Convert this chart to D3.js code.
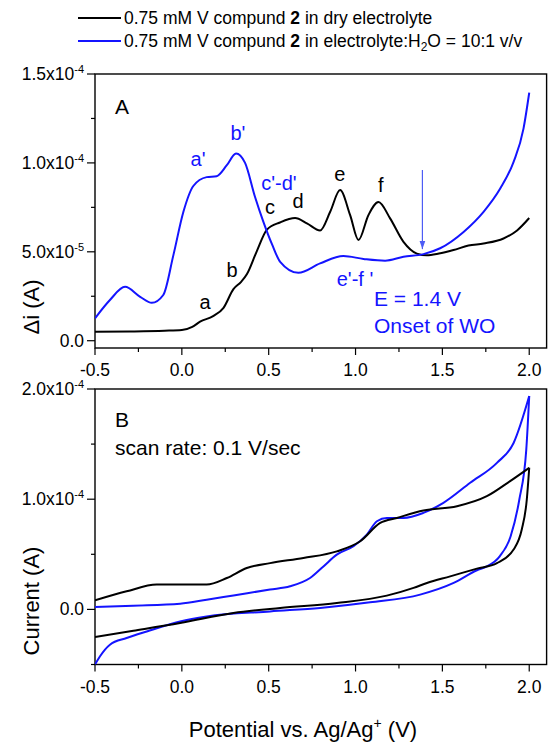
<!DOCTYPE html>
<html>
<head>
<meta charset="utf-8">
<script src="https://cdn.jsdelivr.net/npm/d3@7"></script>
<style>
  body { margin: 0; background: #fff; }
  svg { font-family: Arial, "Liberation Sans", sans-serif; }
</style>
</head>
<body>
<div id="chart"></div>
<script>
// panel A: differential pulse, potential (V) and delta i (A)
var dpvVoltsDry = [-0.5, -0.3, -0.1, 0.0, 0.06, 0.105, 0.18, 0.24, 0.297, 0.34, 0.375, 0.43, 0.49, 0.565, 0.652, 0.72, 0.796, 0.854, 0.911, 0.969, 1.017, 1.074, 1.132, 1.199, 1.276, 1.353, 1.41, 1.48, 1.564, 1.65, 1.737, 1.852, 1.93, 2.0];
var dpvCurrentDry = [0.50e-5, 0.52e-5, 0.56e-5, 0.60e-5, 0.78e-5, 1.07e-5, 1.38e-5, 1.85e-5, 2.9e-5, 3.3e-5, 3.75e-5, 5.0e-5, 6.25e-5, 6.65e-5, 6.9e-5, 6.6e-5, 6.2e-5, 7.25e-5, 8.47e-5, 7.06e-5, 5.66e-5, 7.06e-5, 7.8e-5, 6.88e-5, 5.56e-5, 4.9e-5, 4.8e-5, 4.9e-5, 5.1e-5, 5.35e-5, 5.47e-5, 5.75e-5, 6.2e-5, 6.9e-5];

var dpvVoltsWet = [-0.5, -0.414, -0.327, -0.24, -0.173, -0.107, -0.049, 0.009, 0.066, 0.143, 0.2, 0.259, 0.312, 0.364, 0.421, 0.469, 0.52, 0.566, 0.671, 0.796, 0.93, 1.046, 1.17, 1.276, 1.391, 1.487, 1.622, 1.737, 1.833, 1.91, 1.967, 2.0];
var dpvCurrentWet = [1.26e-5, 2.29e-5, 3.03e-5, 2.47e-5, 2.13e-5, 2.57e-5, 4.8e-5, 7.25e-5, 8.7e-5, 9.2e-5, 9.25e-5, 9.87e-5, 1.053e-4, 1.0e-4, 8.1e-5, 6.7e-5, 5.4e-5, 4.44e-5, 3.82e-5, 4.35e-5, 4.76e-5, 4.6e-5, 4.5e-5, 4.72e-5, 4.87e-5, 5.2e-5, 6.12e-5, 7.25e-5, 8.56e-5, 1.006e-4, 1.193e-4, 1.395e-4];

// panel B: cyclic voltammograms, forward and reverse sweeps
var cvVoltsDryFwd = [-0.5, -0.318, -0.145, -0.01, 0.143, 0.259, 0.374, 0.508, 0.7, 0.892, 1.027, 1.142, 1.238, 1.391, 1.584, 1.756, 1.89, 2.0];
var cvCurrentDryFwd = [0.82e-5, 1.64e-5, 2.25e-5, 2.25e-5, 2.25e-5, 2.85e-5, 3.76e-5, 4.2e-5, 4.67e-5, 5.27e-5, 6.18e-5, 7.85e-5, 8.3e-5, 8.97e-5, 9.36e-5, 1.027e-4, 1.164e-4, 1.285e-4];
var cvVoltsDryRev = [2.0, 1.986, 1.957, 1.91, 1.814, 1.699, 1.545, 1.411, 1.334, 1.18, 0.892, 0.566, 0.297, -0.01, -0.279, -0.5];
var cvCurrentDryRev = [1.285e-4, 9.97e-5, 7.25e-5, 5.43e-5, 4.2e-5, 3.7e-5, 3.0e-5, 2.4e-5, 1.95e-5, 1.25e-5, 0.58e-5, 0.13e-5, -0.33e-5, -1.24e-5, -1.94e-5, -2.5e-5];

var cvVoltsWetFwd = [-0.5, -0.28, -0.01, 0.143, 0.297, 0.508, 0.623, 0.738, 0.815, 0.892, 0.988, 1.065, 1.123, 1.18, 1.276, 1.391, 1.506, 1.66, 1.814, 1.91, 2.0];
var cvCurrentWetFwd = [0.22e-5, 0.34e-5, 0.52e-5, 0.88e-5, 1.27e-5, 1.8e-5, 2.1e-5, 2.85e-5, 3.9e-5, 4.97e-5, 5.73e-5, 6.79e-5, 8.0e-5, 8.3e-5, 8.3e-5, 8.76e-5, 9.67e-5, 1.149e-4, 1.33e-4, 1.51e-4, 1.936e-4];
var cvVoltsWetRev = [2.0, 1.983, 1.943, 1.893, 1.83, 1.756, 1.699, 1.565, 1.372, 1.084, 0.796, 0.508, 0.143, -0.01, -0.202, -0.318, -0.414, -0.472, -0.5];
var cvCurrentWetRev = [1.936e-4, 1.45e-4, 9.97e-5, 6.64e-5, 4.82e-5, 3.9e-5, 3.55e-5, 2.4e-5, 1.34e-5, 0.64e-5, 0.13e-5, -0.18e-5, -0.64e-5, -1.09e-5, -2.0e-5, -2.6e-5, -3.2e-5, -4.27e-5, -5.0e-5];

var xTicks = [-0.5, 0.0, 0.5, 1.0, 1.5, 2.0];
var yTicksA = [0, 5e-5, 1e-4, 1.5e-4];
var yTicksB = [0, 1e-4, 2e-4];

// peak labels on panel A: [text, V, delta i]
var labelsDry = [["a", 0.133, 1.78e-5], ["b", 0.289, 3.58e-5], ["c", 0.507, 7.12e-5], ["d", 0.669, 7.46e-5], ["e", 0.91, 8.97e-5], ["f", 1.146, 8.35e-5]];
var labelsWet = [["a'", 0.093, 9.81e-5], ["b'", 0.323, 1.128e-4], ["c'-d'", 0.559, 8.47e-5], ["e'-f '", 0.997, 3.08e-5]];
var onsetV = 1.385;

var black = "#000", blue = "#1414ff", lightBlue = "#4d5cf5";
var W = 548, H = 742;
var left = 95, right = 546.6;

var svg = d3.select("#chart").append("svg")
  .attr("width", W).attr("height", H);

var x = d3.scaleLinear().domain([-0.5, 2.1]).range([left, right]);
var yA = d3.scaleLinear().domain([-0.41e-5, 1.5e-4]).range([348, 74]);
var yB = d3.scaleLinear().domain([-5e-5, 2e-4]).range([664.5, 389]);

function zip(xs, ys) { return xs.map(function(v, i){ return [v, ys[i]]; }); }
function byX(pts) { return pts.slice().sort(function(a, b){ return a[0] - b[0]; }); }

// legend
var legend = [["dry", black], ["wet", blue]];
legend.forEach(function(d, i){
  var ly = 18 + i * 23;
  svg.append("line").attr("x1", 78).attr("x2", 121).attr("y1", ly).attr("y2", ly)
    .attr("stroke", d[1]).attr("stroke-width", 2);
  var t = svg.append("text").attr("x", 124).attr("y", ly + 6).attr("font-size", 17.5);
  t.append("tspan").text("0.75 mM V compund ");
  t.append("tspan").attr("font-weight", "bold").text("2");
  if (d[0] == "dry") {
    t.append("tspan").text(" in dry electrolyte");
  } else {
    t.append("tspan").text(" in electrolyte:H");
    t.append("tspan").attr("font-size", 12).attr("dy", 4).text("2");
    t.append("tspan").attr("dy", -4).text("O = 10:1 v/v");
  }
});

function sciLabel(sel, v) {
  if (v == 0) { sel.text("0.0"); return; }
  var e = Math.floor(Math.log10(Math.abs(v)));
  var m = v / Math.pow(10, e);
  sel.append("tspan").text(m.toFixed(1) + "x10");
  sel.append("tspan").attr("font-size", 11).attr("dy", -7).text(e);
}

function panel(y, yTicks, minorStep, id) {
  var top = y.range()[1], bottom = y.range()[0];
  var g = svg.append("g");

  svg.append("clipPath").attr("id", id).append("rect")
    .attr("x", left).attr("y", top).attr("width", right - left).attr("height", bottom - top);

  // x ticks
  var xMinor = d3.range(-0.5, 2.01, 0.25);
  g.selectAll(".xt").data(xMinor).enter().append("line")
    .attr("x1", function(d){ return x(d); }).attr("x2", function(d){ return x(d); })
    .attr("y1", bottom)
    .attr("y2", function(d){ return bottom + (Math.abs(d * 2 - Math.round(d * 2)) < 1e-6 ? 7 : 4); })
    .attr("stroke", black).attr("stroke-width", 1.2);
  g.selectAll(".xl").data(xTicks).enter().append("text")
    .attr("x", function(d){ return x(d); }).attr("y", bottom + 28)
    .attr("text-anchor", "middle").attr("font-size", 17.5)
    .text(function(d){ return d.toFixed(1); });

  // y ticks
  var d0 = y.domain();
  var yMinor = d3.range(Math.ceil(d0[0] / minorStep) * minorStep, d0[1] + minorStep / 2, minorStep);
  g.selectAll(".ym").data(yMinor).enter().append("line")
    .attr("x1", function(d){
      var major = yTicks.some(function(t){ return Math.abs(t - d) < minorStep / 10; });
      return left - (major ? 8 : 4);
    })
    .attr("x2", left)
    .attr("y1", function(d){ return y(d); }).attr("y2", function(d){ return y(d); })
    .attr("stroke", black).attr("stroke-width", 1.2);
  g.selectAll(".yl").data(yTicks).enter().append("text")
    .attr("x", 84).attr("y", function(d){ return y(d) + 6; })
    .attr("text-anchor", "end").attr("font-size", 17.5)
    .each(function(d){ sciLabel(d3.select(this), d); });

  g.append("rect").attr("x", left).attr("y", top)
    .attr("width", right - left).attr("height", bottom - top)
    .attr("fill", "none").attr("stroke", black).attr("stroke-width", 1.4);

  return svg.append("g").attr("clip-path", "url(#" + id + ")");
}

var plotA = panel(yA, yTicksA, 2.5e-5, "clipA");
var plotB = panel(yB, yTicksB, 5e-5, "clipB");

var lineA = d3.line().x(function(d){ return x(d[0]); }).y(function(d){ return yA(d[1]); }).curve(d3.curveMonotoneX);
var lineB = d3.line().x(function(d){ return x(d[0]); }).y(function(d){ return yB(d[1]); }).curve(d3.curveMonotoneX);

plotA.append("path").datum(zip(dpvVoltsDry, dpvCurrentDry)).attr("d", lineA)
  .attr("fill", "none").attr("stroke", black).attr("stroke-width", 2);
plotA.append("path").datum(zip(dpvVoltsWet, dpvCurrentWet)).attr("d", lineA)
  .attr("fill", "none").attr("stroke", blue).attr("stroke-width", 2);

[[cvVoltsWetFwd, cvCurrentWetFwd, blue], [cvVoltsWetRev, cvCurrentWetRev, blue],
 [cvVoltsDryFwd, cvCurrentDryFwd, black], [cvVoltsDryRev, cvCurrentDryRev, black]].forEach(function(s){
  plotB.append("path").datum(byX(zip(s[0], s[1]))).attr("d", lineB)
    .attr("fill", "none").attr("stroke", s[2]).attr("stroke-width", 2);
});

// onset arrow
svg.append("defs").append("marker").attr("id", "head")
  .attr("viewBox", "0 0 10 10").attr("refX", 10).attr("refY", 5)
  .attr("markerWidth", 7).attr("markerHeight", 11).attr("orient", "auto")
  .append("path").attr("d", "M0,1.5 L10,5 L0,8.5 Z").attr("fill", lightBlue);
svg.append("line").attr("x1", x(onsetV)).attr("x2", x(onsetV))
  .attr("y1", yA(9.6e-5)).attr("y2", yA(5.15e-5))
  .attr("stroke", lightBlue).attr("stroke-width", 1.2).attr("marker-end", "url(#head)");

// peak labels
svg.selectAll(".ld").data(labelsDry).enter().append("text")
  .attr("x", function(d){ return x(d[1]); }).attr("y", function(d){ return yA(d[2]); })
  .attr("text-anchor", "middle").attr("font-size", 20).attr("fill", black)
  .text(function(d){ return d[0]; });
svg.selectAll(".lw").data(labelsWet).enter().append("text")
  .attr("x", function(d){ return x(d[1]); }).attr("y", function(d){ return yA(d[2]); })
  .attr("text-anchor", "middle").attr("font-size", 20).attr("fill", blue)
  .text(function(d){ return d[0]; });

svg.append("text").attr("x", x(1.106)).attr("y", yA(1.98e-5))
  .attr("font-size", 21).attr("fill", blue).text("E = 1.4 V");
svg.append("text").attr("x", x(1.106)).attr("y", yA(0.43e-5))
  .attr("font-size", 21).attr("fill", blue).text("Onset of WO");

// panel letters
svg.append("text").attr("x", 115).attr("y", 114).attr("font-size", 21).text("A");
svg.append("text").attr("x", 115).attr("y", 427).attr("font-size", 21).text("B");
svg.append("text").attr("x", 115).attr("y", 455).attr("font-size", 21).text("scan rate: 0.1 V/sec");

// axis titles
svg.append("text").attr("transform", "translate(39,307) rotate(-90)")
  .attr("text-anchor", "middle").attr("font-size", 22).text("\u0394i (A)");
svg.append("text").attr("transform", "translate(39,601) rotate(-90)")
  .attr("text-anchor", "middle").attr("font-size", 22).text("Current (A)");
var xt = svg.append("text").attr("x", 303).attr("y", 737)
  .attr("text-anchor", "middle").attr("font-size", 22);
xt.append("tspan").text("Potential vs. Ag/Ag");
xt.append("tspan").attr("font-size", 14).attr("dy", -9).text("+");
xt.append("tspan").attr("dy", 9).text(" (V)");
</script>
</body>
</html>
